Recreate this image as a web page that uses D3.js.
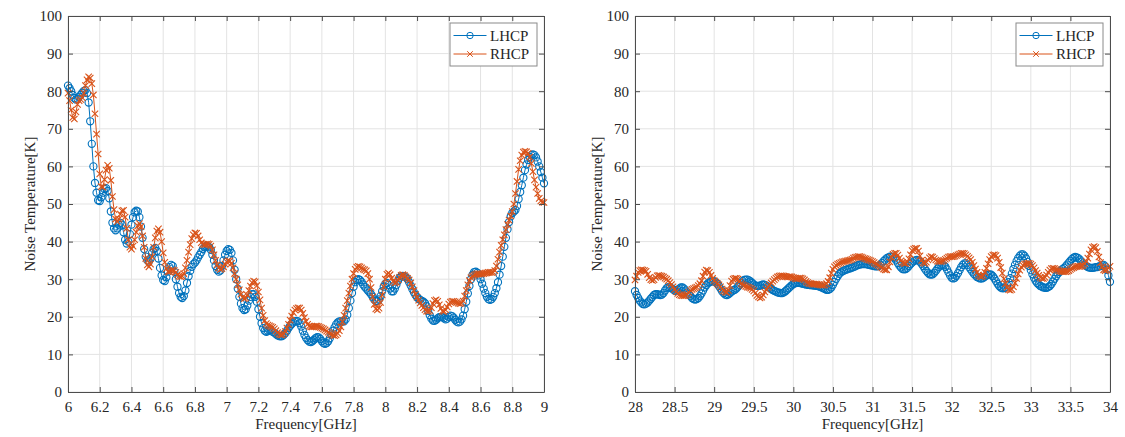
<!DOCTYPE html>
<html><head><meta charset="utf-8">
<script src="https://cdn.jsdelivr.net/npm/d3@7/dist/d3.min.js"></script>
<style>
body{margin:0;background:#fff;}
text{font-family:"Liberation Serif","Times New Roman",serif;fill:#262626;}
</style>
</head><body>
<svg id="chart" width="1125" height="437"></svg>
<script>
// ---------------- data ----------------
const seriesNames = ["LHCP", "RHCP"];
const seriesColors = ["#0072BD", "#D95319"];

const lowFreqStart = 6, lowFreqStep = 0.01;
const lowLHCP = [81.5,80.8,80,79,78.2,77.8,78,78.5,79,79.6,
80.1,80.3,79.5,77,72,66,60,55.6,53,51,
50.8,51.8,53,54,54.2,53.5,51.5,48,45,43.5,
43,43.5,44.5,45,44.5,42.5,40.5,39.5,40,42,
44.5,46.5,47.8,48.2,48,46.5,44,41,38,36,
35,34.7,35.5,37,38,38.3,37.5,35.5,33,31,
29.8,29.5,30.5,32,33.2,33.8,33.5,32,30,28,
26.3,25.3,25,25.5,27,29,30.8,32.2,33.3,34,
34.4,35,35.8,36.5,37.2,38,38.5,38.8,38.8,38.5,
37.8,36.5,35,33.5,32.5,32,32.3,33.5,35,36.5,
37.5,38,37.8,37,35,32.5,30,27.5,25.3,23.5,
22.3,21.8,22,23,24.3,25.3,26,26,25.3,24,
22,20,18.3,17,16.3,16,16.2,16.5,16.5,16,
15.8,15.4,15.1,14.9,14.8,14.9,15.2,15.7,16.3,17,
17.6,18.1,18.5,18.8,18.9,18.8,18.3,17.4,16.3,15.2,
14.4,13.8,13.4,13.3,13.5,13.9,14.3,14.6,14.5,14.1,
13.5,13,12.8,13,13.5,14.3,15.3,16.3,17.2,18,
18.5,18.8,18.8,18.7,18.8,19.3,20.5,22.3,24.3,26.3,
28,29.2,29.8,30,29.8,29.3,28.6,28,27.5,27,
26.5,26,25.3,24.6,24.2,24.2,24.6,25.5,26.8,28,
28.8,29,28.5,27.5,26.8,26.8,27.5,28.5,29.6,30.4,
30.8,30.9,30.8,30.5,30,29.2,28.3,27.4,26.5,25.8,
25.2,24.8,24.5,24.2,24,23.6,22.8,21.6,20.4,19.5,
19,18.9,19.2,19.6,19.9,20,19.9,19.6,19.3,19.5,
20,20.3,20.2,19.8,19.2,18.7,18.5,18.7,19.3,20.3,
22,24,26.2,28.2,30,31.2,31.9,32,31.7,31,
30,28.8,27.5,26.3,25.3,24.7,24.5,24.7,25.3,26.3,
27.6,29.2,31.2,33.5,36,38.6,41,43.3,45.2,46.7,
47.6,48,48.4,49.5,51.3,53.2,55,57,59,60.5,
61.7,62.5,63,63.2,63,62.4,61.3,60,58.5,57,
55.5];
const lowRHCP = [79.5,77.5,75,73,72.6,74.5,76.5,77.5,77.8,78.3,
79.5,81.5,83,83.8,83.5,82,79,74,68.6,63.3,
58,54.6,54.5,56.5,59,60.3,59.5,56.3,52,48.5,
46,45.3,46,47.3,48.2,48.3,46.5,43.5,40.5,38.5,
38,38.8,40.5,42.5,44.2,44.8,44,41.5,38.5,35.5,
33.8,33.3,34,36,38.5,41,42.8,43.4,42.5,40,
37,34.5,32.8,32,32,32.3,32.5,32.3,31.8,31.2,
30.8,30.7,30.8,31.5,33,35,37.2,39.2,40.8,41.8,
42.3,42.2,41.5,40.5,39.7,39.3,39.2,39.3,39.4,39.3,
38.8,37.8,36.5,35,33.8,33,32.6,32.8,33.3,34,
34.6,34.9,34.8,34.2,33,31.5,30,28.5,27.2,26,
25.2,24.8,25,25.8,27,28.2,29.1,29.5,29.3,28.3,
26.6,24.5,22.3,20.4,19,18.2,17.8,17.6,17.4,17.2,
16.8,16.3,15.8,15.4,15.2,15.2,15.5,16.1,17,18,
19.1,20.2,21.1,21.8,22.2,22.4,22.3,21.8,20.9,19.8,
18.8,18,17.5,17.3,17.3,17.4,17.5,17.5,17.4,17.2,
17,16.8,16.5,16.2,15.9,15.6,15.3,15.1,15,15.2,
15.6,16.3,17.3,18.7,20.4,22.3,24.3,26.3,28.2,30,
31.5,32.6,33.2,33.4,33.3,33,32.7,32.5,32.2,31.5,
30,27.8,25.3,23.3,22.1,21.8,22.3,23.8,25.8,28,
30,31.3,31.6,31.2,30.3,29.4,29,29.2,29.8,30.5,
31,31.2,31,30.6,30.2,29.8,29,28,27,26,
25.2,24.4,23.7,23,22.4,21.9,21.5,21.4,21.6,22.4,
23.5,24.3,24.5,24.1,23.2,22.2,21.5,21.4,21.8,22.6,
23.4,23.9,24.1,24.1,24,23.8,23.6,23.5,23.6,24.2,
25.5,27,28.5,29.6,30.4,30.8,31.1,31.3,31.4,31.4,
31.4,31.4,31.5,31.6,31.7,31.8,31.8,31.8,31.8,32.3,
33.5,35.3,37.2,39,40.5,41.8,43.2,44.5,45.7,46.8,
48,50,52.8,56,59.2,61.5,63,63.8,64,63.9,
63.5,62.5,60.8,58.6,56.4,54.5,52.8,51.5,50.8,50.5,
50.4];

const highFreqStart = 28, highFreqStep = 0.02;
const highLHCP = [26.8,25.8,25,24.3,23.8,23.4,23.3,23.5,23.8,24.3,
24.8,25.3,25.8,26,26,25.9,25.8,25.9,26.3,27,
27.6,27.9,27.8,27.6,27.3,27,26.9,27.2,27.5,27.8,
27.8,27.5,27,26.5,26,25.5,25,24.7,24.6,24.7,
25,25.5,26.2,27,27.8,28.4,28.9,29.2,29.4,29.5,
29.5,29.2,28.8,28.2,27.5,26.8,26.3,25.9,25.8,26,
26.3,26.7,27,27.2,27.5,28,28.5,29,29.5,29.8,
29.9,29.9,29.7,29.4,29,28.6,28.3,28.2,28.2,28.3,
28.5,28.6,28.5,28.3,28,27.7,27.4,27.1,26.9,26.7,
26.5,26.4,26.3,26.3,26.5,26.8,27.2,27.6,28,28.4,
28.7,28.9,29,29,29,28.9,28.8,28.7,28.6,28.5,
28.5,28.4,28.4,28.3,28.3,28.2,28.1,28,27.8,27.6,
27.4,27.2,27.2,27.4,27.8,28.5,29.3,30.1,30.8,31.4,
31.8,32.1,32.3,32.5,32.6,32.8,32.9,33.1,33.2,33.4,
33.6,33.8,33.9,34,34,34,34,33.9,33.8,33.7,
33.6,33.5,33.4,33.4,33.5,33.8,34.3,34.8,35.2,35.6,
35.8,36,36,35.9,35.5,35,34.3,33.6,33.1,32.7,
32.6,32.7,33,33.5,34,34.4,34.8,35,35.1,35,
34.6,34.1,33.5,32.8,32.2,31.7,31.3,31.2,31.3,31.7,
32.2,32.8,33.3,33.7,33.8,33.7,33.3,32.6,31.8,31,
30.4,30.2,30.4,30.9,31.6,32.4,33.2,33.8,34.2,34.2,
33.8,33.2,32.6,32,31.4,31,30.6,30.4,30.2,30.2,
30.4,30.7,31,31.2,31.3,31.2,30.8,30.2,29.5,28.8,
28.2,27.8,27.6,27.6,27.8,28.4,29.2,30.3,31.5,32.7,
33.8,34.8,35.6,36.2,36.6,36.6,36.2,35.5,34.6,33.5,
32.4,31.3,30.4,29.6,29,28.6,28.2,28,27.8,27.7,
27.7,27.9,28.2,28.7,29.4,30.1,30.8,31.4,31.9,32.3,
32.7,33,33.4,33.9,34.4,34.9,35.4,35.7,35.9,35.8,
35.6,35.2,34.7,34.2,33.8,33.5,33.2,33.1,33,33,
33.1,33.2,33.2,33.4,33.5,33.7,33.8,33.4,32.5,31,
29.3];
const highRHCP = [29.8,30.8,31.8,32.3,32.5,32.4,32.3,32.1,31.3,30.4,
29.9,29.7,29.9,30.5,30.9,31,30.9,30.8,30.6,30.3,
30,29.6,29.1,28.6,28,27.3,26.7,26.2,25.9,25.7,
25.6,25.6,25.7,26,26.5,27,27.3,27.5,27.7,27.9,
28.3,28.8,29.6,30.8,31.9,32.4,32.3,31.8,31,30.2,
29.6,29.2,28.8,28.5,28,27.4,26.9,26.6,26.5,27,
28.3,29.5,30,30.2,30.2,30,29.4,28.8,28.5,28.3,
28.1,27.9,27.8,27.6,27.3,26.9,26.3,25.7,25.3,25,
25.2,25.8,26.6,27.3,27.9,28.5,29,29.5,29.9,30.3,
30.6,30.8,30.9,30.9,30.8,30.7,30.6,30.6,30.7,30.6,
30.4,30.2,30.1,30.2,30.3,30.3,30.1,29.8,29.4,29.1,
28.9,28.8,28.7,28.7,28.7,28.7,28.6,28.5,28.4,28.4,
28.5,28.8,29.4,30.4,31.6,32.6,33.3,33.7,34,34.2,
34.4,34.6,34.7,34.8,34.9,35,35.1,35.3,35.6,35.8,
35.9,36,36,35.9,35.7,35.5,35.4,35.2,35.1,34.9,
34.7,34.4,34.1,33.9,33.6,33.3,33,32.7,32.5,32.5,
33.3,34.6,35.8,36.6,36.9,36.9,36.4,35.6,34.9,34.4,
34.2,34.2,34.6,35.4,36.5,37.6,38,38.2,38.2,37.5,
36.2,35,34.4,34.2,34.5,35.1,35.7,36,35.9,35.5,
35.1,34.8,34.7,34.7,34.8,35,35.3,35.6,35.9,36,
36,36,36.1,36.3,36.5,36.7,36.9,36.9,36.8,36.5,
36.1,35.7,35.2,34.5,33.6,32.7,31.8,31.1,30.8,30.7,
31,31.8,32.9,34.1,35.2,36,36.4,36.5,36.3,35.6,
34.5,33.1,31.6,30.1,28.8,27.8,27.2,27.1,27.3,28,
29,30.2,31.4,32.4,33.2,33.7,34,34.1,34.2,34.2,
34,33.6,33,32.3,31.6,31,30.5,30.2,30.2,30.5,
31.1,31.8,32.4,32.8,32.9,32.8,32.6,32.4,32.2,32.1,
32,32,32,32.1,32.3,32.6,32.9,33.1,33.3,33.4,
33.4,33.4,33.5,33.7,34.1,34.7,35.6,36.7,37.8,38.5,
38.7,38.4,37.4,35.9,34.4,33.2,32.5,32.3,32.5,33,
33.4];

const lowXTicks = [6, 6.2, 6.4, 6.6, 6.8, 7, 7.2, 7.4, 7.6, 7.8, 8, 8.2, 8.4, 8.6, 8.8, 9];
const highXTicks = [28, 28.5, 29, 29.5, 30, 30.5, 31, 31.5, 32, 32.5, 33, 33.5, 34];
const yTicks = [0, 10, 20, 30, 40, 50, 60, 70, 80, 90, 100];
const xTitle = "Frequency[GHz]";
const yTitle = "Noise Temperature[K]";

// ---------------- drawing ----------------
const svg = d3.select("#chart");
const TOP = 16, BOTTOM = 392, FS = 15;

function drawPanel(left, right, xTicks, fStart, fStep, lh, rh) {
  const x = d3.scaleLinear().domain([xTicks[0], xTicks[xTicks.length - 1]]).range([left, right]);
  const y = d3.scaleLinear().domain([0, 100]).range([BOTTOM, TOP]);
  const g = svg.append("g");

  // grid
  g.append("g").selectAll("line").data(xTicks).join("line")
    .attr("x1", d => x(d)).attr("x2", d => x(d)).attr("y1", TOP).attr("y2", BOTTOM)
    .attr("stroke", "#e3e3e3").attr("stroke-width", 1);
  g.append("g").selectAll("line").data(yTicks).join("line")
    .attr("x1", left).attr("x2", right).attr("y1", d => y(d)).attr("y2", d => y(d))
    .attr("stroke", "#e3e3e3").attr("stroke-width", 1);

  const seriesData = [lh, rh].map(arr => arr.map((v, i) => [fStart + i * fStep, v]));
  const line = d3.line().x(d => x(d[0])).y(d => y(d[1]));

  seriesData.forEach((data, k) => {
    const col = seriesColors[k];
    const sg = g.append("g");
    sg.append("path").datum(data).attr("d", line)
      .attr("fill", "none").attr("stroke", col).attr("stroke-width", 1);
    if (k === 0) {
      sg.selectAll("circle").data(data).join("circle")
        .attr("cx", d => x(d[0])).attr("cy", d => y(d[1])).attr("r", 3.6)
        .attr("fill", "none").attr("stroke", col).attr("stroke-width", 1.1);
    } else {
      sg.selectAll("path.m").data(data).join("path").attr("class", "m")
        .attr("transform", d => `translate(${x(d[0])},${y(d[1])})`)
        .attr("d", "M-3.2,-3.2L3.2,3.2M-3.2,3.2L3.2,-3.2")
        .attr("fill", "none").attr("stroke", col).attr("stroke-width", 1.1);
    }
  });

  // axes (ticks pointing inward, box on all sides)
  const fmt = d => String(d);
  const styleAxis = sel => {
    sel.select(".domain").attr("stroke", "#4d4d4d").attr("stroke-width", 1);
    sel.selectAll(".tick line").attr("stroke", "#4d4d4d");
    sel.selectAll(".tick text").attr("font-size", FS).attr("fill", "#262626")
      .attr("font-family", "'Liberation Serif','Times New Roman',serif");
  };
  g.append("g").attr("transform", `translate(0,${BOTTOM})`)
    .call(d3.axisBottom(x).tickValues(xTicks).tickFormat(fmt).tickSizeInner(-5).tickSizeOuter(0).tickPadding(9))
    .call(styleAxis);
  g.append("g").attr("transform", `translate(0,${TOP})`)
    .call(d3.axisTop(x).tickValues(xTicks).tickFormat("").tickSizeInner(-5).tickSizeOuter(0))
    .call(styleAxis);
  g.append("g").attr("transform", `translate(${left},0)`)
    .call(d3.axisLeft(y).tickValues(yTicks).tickFormat(fmt).tickSizeInner(-5).tickSizeOuter(0).tickPadding(6))
    .call(styleAxis);
  g.append("g").attr("transform", `translate(${right},0)`)
    .call(d3.axisRight(y).tickValues(yTicks).tickFormat("").tickSizeInner(-5).tickSizeOuter(0))
    .call(styleAxis);

  // titles
  g.append("text").attr("x", (left + right) / 2).attr("y", 429)
    .attr("text-anchor", "middle").attr("font-size", FS).text(xTitle);
  g.append("text").attr("transform", `translate(${left - 33},${(TOP + BOTTOM) / 2}) rotate(-90)`)
    .attr("text-anchor", "middle").attr("font-size", FS).text(yTitle);

  // legend
  const lw = 87, lhgt = 43, lx = right - 7 - lw, ly = 23;
  const lg = g.append("g").attr("transform", `translate(${lx},${ly})`);
  lg.append("rect").attr("width", lw).attr("height", lhgt)
    .attr("fill", "#fff").attr("stroke", "#8a8a8a").attr("stroke-width", 1);
  seriesNames.forEach((name, k) => {
    const cy = 12.5 + k * 18.5;
    const col = seriesColors[k];
    lg.append("line").attr("x1", 3.5).attr("x2", 36.5).attr("y1", cy).attr("y2", cy)
      .attr("stroke", col).attr("stroke-width", 1);
    if (k === 0) {
      lg.append("circle").attr("cx", 20).attr("cy", cy).attr("r", 3.2)
        .attr("fill", "none").attr("stroke", col).attr("stroke-width", 1);
    } else {
      lg.append("path").attr("transform", `translate(20,${cy})`)
        .attr("d", "M-2.8,-2.8L2.8,2.8M-2.8,2.8L2.8,-2.8")
        .attr("fill", "none").attr("stroke", col).attr("stroke-width", 1);
    }
    lg.append("text").attr("x", 40).attr("y", cy).attr("dy", "0.35em")
      .attr("font-size", FS).text(name);
  });
}

drawPanel(68, 544, lowXTicks, lowFreqStart, lowFreqStep, lowLHCP, lowRHCP);
drawPanel(635, 1110, highXTicks, highFreqStart, highFreqStep, highLHCP, highRHCP);
</script>
</body></html>
